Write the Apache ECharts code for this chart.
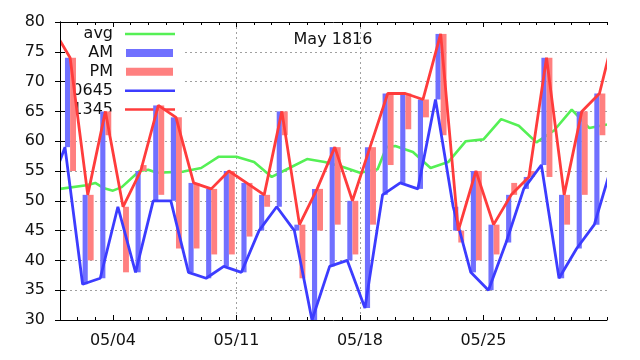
<!DOCTYPE html>
<html><head><meta charset="utf-8">
<script src="https://cdn.jsdelivr.net/npm/echarts@6/dist/echarts.min.js"></script>
<style>html,body{margin:0;padding:0;background:#fff}#c{width:640px;height:360px}</style>
</head><body><div id="c"></div>
<script>
// ---------- data ----------
// readings from 04/30 to 06/01 (first and last only partly visible, clipped at the frame)
const dayLabels = ['04/30','05/01','05/02','05/03','05/04','05/05','05/06','05/07','05/08','05/09','05/10',
  '05/11','05/12','05/13','05/14','05/15','05/16','05/17','05/18','05/19','05/20',
  '05/21','05/22','05/23','05/24','05/25','05/26','05/27','05/28','05/29','05/30','05/31','06/01'];
const t0645 = [51, 59,36,37,49,38,50,50,38,37,39, 38,45,49,45,30,39,40,32,51,53, 52,67,49,38,35,43,52,56,37,42, 46, 56];
const t1345 = [79, 74,51,65,49,55,66,64,53,52,55, 53,51,65,46,52,59,50,59,68,68, 67,78,45,55,46,51,54,74,51,65, 68, 80];
// evening reading (other end of the PM bars), May 1..31
const tEvening = [55,40,61,38,56,51,42,42,41,41, 44,49,61,37,45,46,41,46,56,62, 64,61,43,40,41,53,55,54,46,51, 61];
// avg curve: [day offset from 05/01 00:00, value]
const avgDay = [0,1.5,2,2.5,3,3.5,4.5,5,5.5,7,8,9,10,11,12,13,14,15,16,17,18,18.5,19,20,21,22,23,24,25,26,27,28,29,30,31];
const avgVal = [52.0,52.6,53.0,52.1,51.7,52.3,55.0,55.2,54.7,54.9,55.5,57.4,57.4,56.5,54.0,55.5,57.0,56.5,55.7,54.7,55.3,59.0,59.2,58.2,55.5,56.5,60.0,60.3,63.7,62.6,59.8,61.8,65.3,62.2,62.8];
// reading times (hours)
const hourAM = 6.75, hourPM = 13.75, hourEve = 21.75;
const xTickLabels = ['05/04','05/11','05/18','05/25'];
const yTicks = [30,35,40,45,50,55,60,65,70,75,80];
const title = 'May 1816';
const legendNames = ['avg','AM','PM','0645','1345'];

// ---------- build ----------
const dayOff = lbl => { const [mo, d] = lbl.split('/').map(Number); return mo === 4 ? d - 31 : (mo === 6 ? 30 + d : d - 1); };
const xTickVals = xTickLabels.map(dayOff);
const line0645 = t0645.map((v,i)=>[dayOff(dayLabels[i]) + hourAM/24, v]);
const line1345 = t1345.map((v,i)=>[dayOff(dayLabels[i]) + hourPM/24, v]);
const amData = [], pmData = [];
for (let i = 1; i <= 31; i++) {
  const d = dayOff(dayLabels[i]);
  amData.push([d, t0645[i], t1345[i]]);
  pmData.push([d, t1345[i], tEvening[i-1]]);
}
const avgData = avgDay.map((d,i)=>[d, avgVal[i]]);

const C = { avg:'#55f055', am:'#7070ff', pm:'#ff8080', l0645:'#3c3cff', l1345:'#ff3c3c' };
const FONT = '"DejaVu Sans", sans-serif';

function barRenderer(h0, h1, color) {
  return function (params, api) {
    const d = api.value(0), a = api.value(1), b = api.value(2);
    const p1 = api.coord([d + h0/24, Math.max(a,b)]);
    const p2 = api.coord([d + h1/24, Math.min(a,b)]);
    const cs = params.coordSys;
    const r = echarts.graphic.clipRectByRect(
      {x:p1[0], y:p1[1], width:p2[0]-p1[0], height:p2[1]-p1[1]},
      {x:cs.x, y:cs.y, width:cs.width, height:cs.height});
    return r && { type:'rect', shape:r, style:{ fill: color } };
  };
}

const axisBlack = { show:true, lineStyle:{ color:'#000', width:1 } };
const decoX = (pos, opts) => Object.assign({
  type:'value', min:0, max:31, position:pos, z:10,
  axisLine: axisBlack, axisLabel:{show:false}, splitLine:{show:false}
}, opts);

const chart = echarts.init(document.getElementById('c'), null, {renderer:'canvas'});
const G = { left:60, top:22, right:33, bottom:40 };
const rowY = i => 34 + i * 18.9;
const legendEls = [
  { type:'rect', z:1, shape:{x:61, y:23, width:122, height:103}, style:{fill:'#fff'} }
];
const sampleColors = [C.avg, C.am, C.pm, C.l0645, C.l1345];
legendNames.forEach((n,i)=>{
  legendEls.push({ type:'text', z:1, x:113, y:rowY(i),
    style:{ text:n, fontFamily:FONT, fontSize:16, fill:'#111', align:'right', verticalAlign:'middle' } });
  if (i === 1 || i === 2) {
    legendEls.push({ type:'rect', z:1, shape:{x:126, y:rowY(i)-4, width:47, height:8}, style:{fill:sampleColors[i]} });
  } else {
    legendEls.push({ type:'line', z:1, shape:{x1:125, y1:rowY(i), x2:175, y2:rowY(i)}, style:{stroke:sampleColors[i], lineWidth:2.5} });
  }
});
legendEls.push({ type:'text', z:1, x:333, y:39.5,
  style:{ text:title, fontFamily:FONT, fontSize:16, fill:'#111', align:'center', verticalAlign:'middle' } });
// narrow white masks just outside the frame so that the lines end exactly at the border
const W = 640, H = 360, gx1 = W - G.right, gy1 = H - G.bottom;
[[G.left-8, G.top-8, 8, gy1-G.top+14], [gx1, G.top-8, 8, gy1-G.top+14],
 [G.left-8, G.top-8, gx1-G.left+16, 8], [G.left-8, gy1, gx1-G.left+16, 6]].forEach(r=>{
  legendEls.push({ type:'rect', z:8, silent:true, shape:{x:r[0], y:r[1], width:r[2], height:r[3]}, style:{fill:'#fff'} });
});

chart.setOption({
  animation:false,
  backgroundColor:'#fff',
  grid:{ left:G.left, top:G.top, right:G.right, bottom:G.bottom, containLabel:false },
  xAxis:[
    { type:'value', min:0, max:31, position:'bottom', z:0,
      axisLine:{show:false},
      axisTick:{show:false, customValues:xTickVals},
      axisLabel:{ customValues:xTickVals, formatter:v=>xTickLabels[xTickVals.indexOf(v)] || '',
        fontFamily:FONT, fontSize:16, color:'#111', margin:13 },
      splitLine:{ show:true, showMinLine:false, showMaxLine:false, lineStyle:{ color:'#a0a0a0', width:1, type:[2,3] } } },
    decoX('bottom', { axisTick:{ show:true, inside:true, length:5, customValues:xTickVals, lineStyle:{color:'#000'} } }),
    decoX('bottom', { interval:1, axisLine:{show:false}, axisTick:{ show:true, inside:true, length:3, lineStyle:{color:'#000'} } }),
    decoX('top', { axisTick:{ show:true, inside:true, length:5, customValues:xTickVals, lineStyle:{color:'#000'} } }),
    decoX('top', { interval:1, axisLine:{show:false}, axisTick:{ show:true, inside:true, length:3, lineStyle:{color:'#000'} } })
  ],
  yAxis:[
    { type:'value', min:yTicks[0], max:yTicks[yTicks.length-1], interval:5, position:'left', z:0,
      axisLine:{show:false}, axisTick:{show:false},
      axisLabel:{ fontFamily:FONT, fontSize:16, color:'#111', margin:15 },
      splitLine:{ show:true, showMinLine:false, showMaxLine:false, lineStyle:{ color:'#a0a0a0', width:1, type:[2,3] } } },
    { type:'value', min:30, max:80, interval:5, position:'left', z:10, axisLine:axisBlack,
      axisTick:{ show:true, inside:true, length:5, lineStyle:{color:'#000'} }, axisLabel:{show:false}, splitLine:{show:false} },
    { type:'value', min:30, max:80, interval:5, position:'right', z:10, axisLine:axisBlack,
      axisTick:{ show:true, inside:true, length:5, lineStyle:{color:'#000'} }, axisLabel:{show:false}, splitLine:{show:false} }
  ],
  graphic:{ elements: legendEls },
  series:[
    { name:'avg', type:'line', data:avgData, showSymbol:false, symbol:'none', clip:true, z:2,
      lineStyle:{ color:C.avg, width:2.6 } },
    { name:'AM', type:'custom', data:amData, renderItem:barRenderer(hourAM, hourPM, C.am), encode:{x:0, y:[1,2]}, z:3 },
    { name:'PM', type:'custom', data:pmData, renderItem:barRenderer(hourPM, hourEve, C.pm), encode:{x:0, y:[1,2]}, z:4 },
    { name:'0645', type:'line', data:line0645, showSymbol:false, symbol:'none', clip:true, z:5,
      lineStyle:{ color:C.l0645, width:2.8 } },
    { name:'1345', type:'line', data:line1345, showSymbol:false, symbol:'none', clip:true, z:6,
      lineStyle:{ color:C.l1345, width:2.8 } }
  ]
});
</script></body></html>
